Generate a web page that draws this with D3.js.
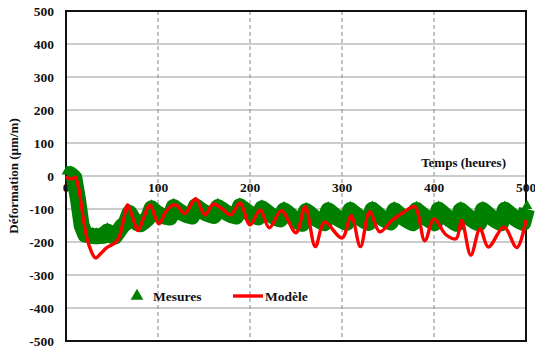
<!DOCTYPE html>
<html lang="fr">
<head>
<meta charset="UTF-8" />
<title>Déformation</title>
<script src="https://d3js.org/d3.v7.min.js"></script>
<style>
  body { margin: 0; background: #fff; }
  svg text { font-family: "Liberation Serif", "Times New Roman", serif; font-weight: bold; fill: #111; }
</style>
</head>
<body>
<svg width="535" height="347"></svg>
<script>
// measured strain, one reading every 4 h starting at t = 1 h
const mesuresStart = 1, mesuresStep = 4;
const mesures = [
  5, 5, -5, -70, -150, -178, -180, -182, -183, -182, -181, -168, -180, -183, -168, -152,
  -142, -112, -130, -142, -146, -138, -128, -98, -108, -116, -121, -124, -126, -94, -102, -110,
  -116, -120, -123, -92, -100, -108, -114, -118, -121, -94, -101, -109, -115, -120, -123, -92,
  -100, -108, -116, -122, -126, -98, -106, -115, -122, -128, -132, -104, -112, -122, -132, -140,
  -145, -106, -114, -124, -132, -138, -143, -104, -113, -122, -131, -137, -142, -103, -112, -121,
  -130, -137, -142, -102, -111, -121, -130, -136, -141, -104, -113, -122, -131, -138, -143, -103,
  -112, -121, -130, -137, -143, -102, -111, -121, -131, -139, -145, -104, -113, -123, -132, -139,
  -144, -103, -112, -122, -131, -138, -143, -102, -111, -121, -130, -137, -142, -100
];

// model curve, turning points [hours, µm/m]
const modele = [
  [0, 0], [3, -8], [7, -8], [10, -4], [14, -40], [20, -150], [25, -210], [32, -248],
  [38, -234], [44, -218], [52, -205], [57, -190], [62, -140], [67, -88], [73, -130],
  [78, -165], [84, -130], [91, -88], [101, -145], [108, -110], [116, -88], [121, -90],
  [129, -114], [141, -69], [151, -118], [160, -85], [170, -100], [179, -118], [189, -82],
  [200, -148], [211, -103], [221, -157], [234, -105], [250, -172], [260, -93], [271, -214],
  [281, -140], [300, -188], [310, -120], [320, -214], [330, -108], [341, -169], [355, -133],
  [367, -110], [379, -93], [390, -196], [400, -130], [413, -178], [424, -190], [430, -135],
  [440, -240], [450, -160], [459, -215], [476, -155], [490, -217], [500, -133]
];

const xTicks = [0, 100, 200, 300, 400, 500];
const yTicks = [-500, -400, -300, -200, -100, 0, 100, 200, 300, 400, 500];

const svg = d3.select("svg");
const plotL = 66, plotR = 526, plotT = 11, plotB = 341;

const x = d3.scaleLinear().domain([0, 500]).range([plotL, plotR]);
const y = d3.scaleLinear().domain([-500, 500]).range([plotB, plotT]);

// grid
svg.append("g").selectAll("line")
  .data(yTicks.filter(d => d > -500 && d < 500))
  .join("line")
  .attr("x1", plotL).attr("x2", plotR)
  .attr("y1", d => y(d)).attr("y2", d => y(d))
  .attr("stroke", "#999").attr("stroke-width", 1.2);

svg.append("g").selectAll("line")
  .data(xTicks.filter(d => d > 0 && d < 500))
  .join("line")
  .attr("x1", d => x(d)).attr("x2", d => x(d))
  .attr("y1", plotT).attr("y2", plotB)
  .attr("stroke", "#888").attr("stroke-width", 1)
  .attr("stroke-dasharray", "4,3");

// frame
svg.append("rect")
  .attr("x", plotL).attr("y", plotT)
  .attr("width", plotR - plotL).attr("height", plotB - plotT)
  .attr("fill", "none").attr("stroke", "#111").attr("stroke-width", 2);

// y tick labels
svg.append("g").selectAll("text")
  .data(yTicks)
  .join("text")
  .attr("x", 54).attr("y", d => y(d))
  .attr("dy", "0.35em")
  .attr("text-anchor", "end")
  .style("font-size", "13.5px")
  .text(d => d);

// x tick labels, under the zero line
svg.append("g").selectAll("text")
  .data(xTicks)
  .join("text")
  .attr("x", d => x(d)).attr("y", y(0) + 16)
  .attr("text-anchor", "middle")
  .style("font-size", "13.5px")
  .text(d => d);

svg.append("text")
  .attr("transform", `translate(18,${y(0)}) rotate(-90)`)
  .attr("text-anchor", "middle")
  .style("font-size", "13px")
  .text("Déformation (µm/m)");

svg.append("text")
  .attr("x", 506).attr("y", 167)
  .attr("text-anchor", "end")
  .style("font-size", "13px")
  .text("Temps (heures)");

// mesures
const mesPts = mesures.map((v, i) => [mesuresStart + i * mesuresStep, v]);
const tri = d3.symbol().type(d3.symbolTriangle).size(50);

svg.append("path")
  .datum(mesPts)
  .attr("fill", "none")
  .attr("stroke", "#008000")
  .attr("stroke-width", 16)
  .attr("stroke-linejoin", "round")
  .attr("d", d3.line().x(d => x(d[0])).y(d => y(d[1])));

svg.append("g").selectAll("path")
  .data(mesPts)
  .join("path")
  .attr("transform", d => `translate(${x(d[0])},${y(d[1]) - 3})`)
  .attr("d", tri)
  .attr("fill", "#008000");

// modele
svg.append("path")
  .datum(modele)
  .attr("fill", "none")
  .attr("stroke", "#ff0000")
  .attr("stroke-width", 3.4)
  .attr("stroke-linejoin", "round")
  .attr("d", d3.line().curve(d3.curveCatmullRom.alpha(0.5)).x(d => x(d[0])).y(d => y(d[1])));

// legend
const legY = 296;
svg.append("path")
  .attr("transform", `translate(137,${legY})`)
  .attr("d", d3.symbol().type(d3.symbolTriangle).size(70))
  .attr("fill", "#008000");
svg.append("text")
  .attr("x", 153).attr("y", legY).attr("dy", "0.35em")
  .style("font-size", "13.5px")
  .text("Mesures");
svg.append("line")
  .attr("x1", 233).attr("x2", 263)
  .attr("y1", legY).attr("y2", legY)
  .attr("stroke", "#ff0000").attr("stroke-width", 3.4);
svg.append("text")
  .attr("x", 265).attr("y", legY).attr("dy", "0.35em")
  .style("font-size", "13.5px")
  .text("Modèle");
</script>
</body>
</html>
